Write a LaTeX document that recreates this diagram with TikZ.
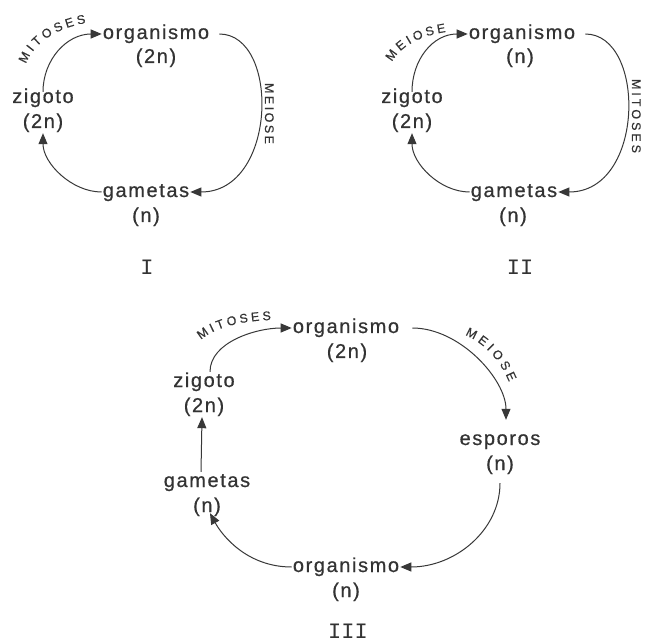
\documentclass[tikz,border=0pt]{standalone}
\usepackage{fontspec}
\setmainfont{Liberation Sans}
\newfontfamily\wordfont[LetterSpace=8,FakeBold=0.6]{Liberation Sans}
\newfontfamily\tagfont[FakeBold=0.4]{Liberation Sans}
\newfontfamily\numfont{Liberation Mono}
\usetikzlibrary{arrows.meta,decorations.text}
\definecolor{ink}{HTML}{333333}
\definecolor{wire}{HTML}{383838}

\tikzset{
  word/.style={font=\wordfont\fontsize{20}{24}\selectfont, text=ink, anchor=base,
    inner sep=1pt, text height=14pt, text depth=4pt},
  numeral/.style={font=\numfont\fontsize{22}{26}\selectfont, text=ink, anchor=base, inner sep=0pt},
  cycle/.style={draw=wire, line width=1pt, -{Triangle[length=11pt,width=9pt]}},
  curvedlabel/.style={decorate, decoration={text along path, text align={fit to path},
    text color=ink, text={|\tagfont\fontsize{12.5}{14}\selectfont|#1}}},
}

\begin{document}
\begin{tikzpicture}[x=1pt,y=-1pt]
  \fill[white] (0,0) rectangle (648,644);
  \useasboundingbox (0,0) rectangle (648,644);

  % ---- cycle I ----
  \node[word] (o1)  at (156,39)  {organismo};
  \node[word] (o1n) at (156,63)  {(2n)};
  \node[word] (z1)  at (43,103)  {zigoto};
  \node[word] (z1n) at (43,128)  {(2n)};
  \node[word] (g1)  at (146,197) {gametas};
  \node[word] (g1n) at (146,222) {(n)};
  \node[numeral] (t1) at (147,275) {I};

  \draw[cycle] ([yshift=-4pt]z1.north) .. controls +(0,-32) and +(-35,0) .. (o1.west);
  \draw[cycle, shorten <=9pt] (o1.east) .. controls +(70,0) and +(87,0) .. (g1.east);
  \draw[cycle] (g1.west) .. controls +(-30,0) and +(0,30) .. (z1n.south);
  \path[curvedlabel=MITOSES] (26,64) .. controls (33,45) and (53,29) .. (86,23);
  \path[curvedlabel=MEIOSE] (265,83) -- (265,144);

  % ---- cycle II ----
  \node[word] (o2)  at (522,39)  {organismo};
  \node[word] (o2n) at (520,63)  {(n)};
  \node[word] (z2)  at (412,103) {zigoto};
  \node[word] (z2n) at (412,128) {(2n)};
  \node[word] (g2)  at (514,197) {gametas};
  \node[word] (g2n) at (513,222) {(n)};
  \node[numeral] (t2) at (520,275) {II};

  \draw[cycle] ([yshift=-4pt]z2.north) .. controls +(0,-32) and +(-35,0) .. (o2.west);
  \draw[cycle, shorten <=9pt] (o2.east) .. controls +(70,0) and +(87,0) .. (g2.east);
  \draw[cycle] (g2.west) .. controls +(-30,0) and +(0,30) .. (z2n.south);
  \path[curvedlabel=MEIOSE] (392,62) .. controls (400,47) and (419,36) .. (446,32);
  \path[curvedlabel=MITOSES] (632,79) -- (632,153);

  % ---- cycle III ----
  \node[word] (o3)  at (346,333) {organismo};
  \node[word] (o3n) at (347,358) {(2n)};
  \node[word] (z3)  at (204,387) {zigoto};
  \node[word] (z3n) at (204,412) {(2n)};
  \node[word] (g3)  at (207,487) {gametas};
  \node[word] (g3n) at (207,512) {(n)};
  \node[word] (e3)  at (500,445) {esporos};
  \node[word] (e3n) at (500,470) {(n)};
  \node[word] (b3)  at (346,572) {organismo};
  \node[word] (b3n) at (346,597) {(n)};
  \node[numeral] (t3) at (348,638) {III};

  \draw[cycle] ([xshift=6pt]z3.north) .. controls +(0,-30) and +(-35,0) .. (o3.west);
  \draw[cycle, shorten <=12pt, shorten >=10pt] (o3.east) .. controls +(60,0) and +(0,-50) .. ([xshift=6pt]e3.north);
  \draw[cycle, shorten <=8pt] (e3n.south) .. controls +(0,55) and +(55,0) .. (b3.east);
  \draw[cycle] (b3.west) .. controls +(-45,0) and +(12,22) .. ([xshift=3pt, yshift=4pt]g3n.south);
  \draw[cycle] ([xshift=-6pt]g3.north) -- ([xshift=-2pt]z3n.south);
  \path[curvedlabel=MITOSES] (201,340) .. controls (214,328) and (240,321) .. (271,320);
  \path[curvedlabel=MEIOSE] (465,335) .. controls (482,342) and (499,358) .. (509,382);
\end{tikzpicture}
\end{document}
